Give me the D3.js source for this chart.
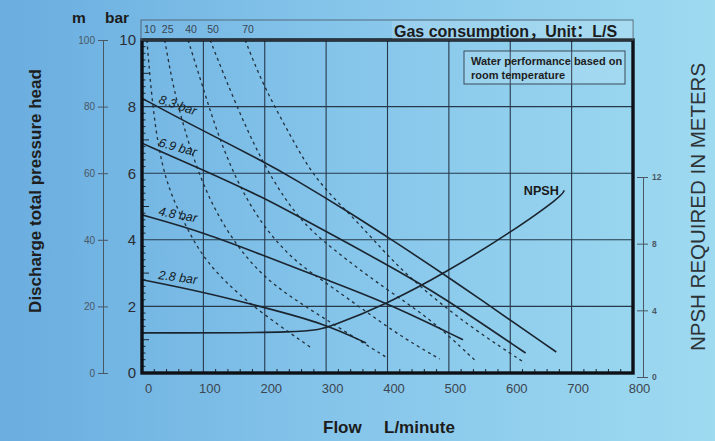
<!DOCTYPE html>
<html>
<head>
<meta charset="utf-8">
<script src="https://cdn.jsdelivr.net/npm/d3@7"></script>
<style>
  html, body { margin: 0; padding: 0; }
  body { width: 715px; height: 441px; overflow: hidden; }
  text { font-family: "Liberation Sans", Arial, "Noto Sans CJK SC", sans-serif; }
</style>
</head>
<body>
<div id="chart"></div>
<script>
// flow in L/minute, head in bar, NPSH in m
const flowTicks = [0, 100, 200, 300, 400, 500, 600, 700, 800]
const barTicks = [0, 2, 4, 6, 8, 10]
const meterTicks = [0, 20, 40, 60, 80, 100]
const npshTicks = [0, 4, 8, 12]

// air pressure curves (solid)
const pressureNames = ["8.3 bar", "6.9 bar", "4.8 bar", "2.8 bar"]
const p83 = [[0, 8.25], [65, 7.6], [200, 6.33], [245, 5.86], [340, 4.8], [400, 4.08], [490, 3.0], [675, 0.63]]
const p69 = [[0, 6.9], [100, 6.1], [200, 5.25], [255, 4.7], [400, 3.25], [485, 2.35], [625, 0.6]]
const p48 = [[0, 4.75], [100, 4.23], [205, 3.48], [300, 2.8], [400, 2.1], [523, 1.0]]
const p28 = [[0, 2.8], [100, 2.43], [197, 1.98], [300, 1.47], [365, 0.9]]

// gas consumption curves (dashed), L/S
const gasNames = ["10", "25", "40", "50", "70"]
const gas10 = [[8, 10], [18, 7.75], [36, 5.8], [70, 4.45], [103, 3.33], [171, 2.1], [274, 0.78]]
const gas25 = [[37, 10], [50, 8.65], [67, 7.45], [95, 5.8], [135, 4.3], [192, 2.94], [257, 2.1], [322, 1.35], [400, 0.45]]
const gas40 = [[75, 10], [98, 8.65], [122, 7.24], [153, 5.8], [195, 4.44], [249, 3.33], [306, 2.64], [412, 1.2], [485, 0.42]]
const gas50 = [[111, 10], [138, 8.74], [173, 7.21], [212, 5.8], [257, 4.59], [306, 3.78], [399, 2.49], [469, 1.65], [542, 0.39]]
const gas70 = [[168, 10], [197, 8.65], [241, 7.15], [282, 5.8], [344, 4.68], [392, 3.69], [432, 2.94], [485, 2.1], [546, 1.25], [624, 0.3]]

// NPSH required, m
const npsh = [[0, 2.65], [274, 2.65], [306, 3.0], [400, 4.4], [494, 6.25], [600, 8.65], [684, 10.85], [688, 11.2]]

const pressureCurves = [p83, p69, p48, p28]
const gasCurves = [gas10, gas25, gas40, gas50, gas70]

const W = 715, H = 441
const plot = {left: 142, right: 633, top: 40, bottom: 373}
const ink = "#1b2530"

const svg = d3.select("#chart").append("svg")
    .attr("width", W)
    .attr("height", H)

const defs = svg.append("defs")
const grad = defs.append("linearGradient").attr("id", "bg")
    .attr("x1", "0%").attr("x2", "100%").attr("y1", "0%").attr("y2", "0%")
grad.append("stop").attr("offset", "0%").attr("stop-color", "#6aaddf")
grad.append("stop").attr("offset", "45%").attr("stop-color", "#84c4ea")
grad.append("stop").attr("offset", "100%").attr("stop-color", "#9edaf0")
defs.append("clipPath").attr("id", "plotclip")
    .append("rect")
    .attr("x", plot.left).attr("y", plot.top)
    .attr("width", plot.right - plot.left).attr("height", plot.bottom - plot.top)

svg.append("rect").attr("width", W).attr("height", H).attr("fill", "url(#bg)")

const x = d3.scaleLinear([0, 800], [plot.left, plot.right])
const y = d3.scaleLinear([0, 10], [plot.bottom, plot.top])
const yM = d3.scaleLinear([0, 100], [plot.bottom, plot.top])
const yN = d3.scaleLinear([0, 12], [377, 177])

// grid
const grid = svg.append("g").attr("stroke", "#26384a").attr("stroke-width", 1.1)
grid.selectAll(".v").data(flowTicks.slice(1, -1)).join("line")
    .attr("x1", d => x(d)).attr("x2", d => x(d))
    .attr("y1", plot.top).attr("y2", plot.bottom)
grid.selectAll(".h").data(barTicks.slice(1, -1)).join("line")
    .attr("x1", plot.left).attr("x2", plot.right)
    .attr("y1", d => y(d)).attr("y2", d => y(d))

// minor ticks inside the frame
const minor = svg.append("g").attr("stroke", ink).attr("stroke-width", 1)
minor.selectAll(".mb").data(d3.range(0, 10, 0.2).filter(v => Math.round(v * 10) % 20 != 0)).join("line")
    .attr("x1", plot.left).attr("x2", d => plot.left + (Math.round(d * 10) % 10 == 0 ? 7 : 3.5))
    .attr("y1", d => y(d)).attr("y2", d => y(d))
minor.selectAll(".mf").data(d3.range(20, 800, 20).filter(v => v % 100 != 0)).join("line")
    .attr("x1", d => x(d)).attr("x2", d => x(d))
    .attr("y1", plot.bottom).attr("y2", plot.bottom - 4)

// curves
const line = d3.line()
    .x(d => x(d[0]))
    .y(d => y(d[1]))
    .curve(d3.curveBasis)

const curves = svg.append("g").attr("clip-path", "url(#plotclip)")

curves.selectAll(".gas").data(gasCurves).join("path")
    .attr("class", "gas")
    .attr("d", line)
    .attr("fill", "none")
    .attr("stroke", "#22303c")
    .attr("stroke-width", 1.3)
    .attr("stroke-dasharray", "3,3.5")

curves.selectAll(".press").data(pressureCurves).join("path")
    .attr("class", "press")
    .attr("d", line)
    .attr("fill", "none")
    .attr("stroke", ink)
    .attr("stroke-width", 1.6)

const npshLine = d3.line()
    .x(d => x(d[0]))
    .y(d => yN(d[1]))
    .curve(d3.curveBasis)

curves.append("path")
    .attr("d", npshLine(npsh))
    .attr("fill", "none")
    .attr("stroke", ink)
    .attr("stroke-width", 1.6)

// pressure labels, tilted along the start of each curve
pressureCurves.forEach((c, i) => {
    const px0 = x(c[0][0]), py0 = y(c[0][1])
    const slope = (y(c[1][1]) - py0) / (x(c[1][0]) - px0)
    const lx = px0 + 16
    const ly = py0 + slope * 16 - 4
    const ang = Math.atan(slope) * 180 / Math.PI * 0.65
    svg.append("text")
        .attr("transform", `translate(${lx},${ly}) rotate(${ang})`)
        .attr("font-size", 12.5)
        .attr("font-style", "italic")
        .attr("fill", "#141c24")
        .text(pressureNames[i])
})

const lastN = npsh[npsh.length - 2]
svg.append("text")
    .attr("x", x(lastN[0]) - 3)
    .attr("y", yN(lastN[1]) - 1)
    .attr("text-anchor", "end")
    .attr("font-size", 12)
    .attr("font-weight", "bold")
    .attr("textLength", 35)
    .attr("lengthAdjust", "spacingAndGlyphs")
    .attr("fill", "#1a1a1a")
    .text("NPSH")

// frame
svg.append("rect")
    .attr("x", plot.left).attr("y", plot.top)
    .attr("width", plot.right - plot.left).attr("height", plot.bottom - plot.top)
    .attr("fill", "none")
    .attr("stroke", "#0d1015")
    .attr("stroke-width", 3.4)

// gas consumption strip on top
svg.append("rect")
    .attr("x", plot.left - 1).attr("y", 20)
    .attr("width", plot.right - plot.left + 1).attr("height", 20)
    .attr("fill", "none")
    .attr("stroke", "#506070")
    .attr("stroke-width", 0.9)
svg.append("rect")
    .attr("x", 392).attr("y", 21)
    .attr("width", plot.right - 392).attr("height", 18)
    .attr("fill", "#ffffff").attr("fill-opacity", 0.14)
svg.append("text")
    .attr("x", 394).attr("y", 37)
    .attr("font-size", 16).attr("font-weight", "bold")
    .attr("fill", "#1c1c1c")
    .text("Gas consumption，Unit：L/S")

svg.selectAll(".gaslab").data(gasCurves).join("text")
    .attr("x", d => x(d[0][0]) + 3)
    .attr("y", 33)
    .attr("text-anchor", "middle")
    .attr("font-size", 10.5)
    .attr("fill", "#3a4450")
    .text((d, i) => gasNames[i])

// note box
svg.append("rect")
    .attr("x", 464).attr("y", 51).attr("width", 161).attr("height", 33)
    .attr("fill", "#ffffff").attr("fill-opacity", 0.12)
    .attr("stroke", "#3a4a5a").attr("stroke-width", 1)
svg.append("text")
    .attr("x", 471).attr("y", 64.5)
    .attr("font-size", 11).attr("font-weight", "bold").attr("fill", "#1e1e1e")
    .text("Water performance based on")
svg.append("text")
    .attr("x", 471).attr("y", 79)
    .attr("font-size", 11).attr("font-weight", "bold").attr("fill", "#1e1e1e")
    .text("room temperature")

// x axis
const xAxis = svg.append("g")
    .attr("transform", `translate(0,${plot.bottom})`)
    .call(d3.axisBottom(x).tickValues(flowTicks).tickSize(0).tickPadding(11))
xAxis.select(".domain").remove()
xAxis.selectAll("text")
    .attr("dx", 6)
    .attr("font-size", 13)
    .attr("fill", "#3c4650")
    .attr("font-family", "Liberation Sans, Arial, sans-serif")

// bar axis (labels only)
const barAxis = svg.append("g")
    .attr("transform", "translate(136,0)")
    .call(d3.axisLeft(y).tickValues(barTicks).tickSize(0).tickPadding(0))
barAxis.select(".domain").remove()
barAxis.selectAll("text")
    .attr("font-size", 15)
    .attr("fill", "#2a2e33")
    .attr("font-family", "Liberation Sans, Arial, sans-serif")

// meter axis
const mAxis = svg.append("g")
    .attr("transform", "translate(103,0)")
    .call(d3.axisLeft(yM).tickValues(meterTicks).tickSize(5).tickSizeOuter(0).tickPadding(3))
mAxis.select(".domain").attr("stroke", "#4a5866")
mAxis.selectAll("line").attr("x1", 5).attr("stroke", "#4a5866")
mAxis.selectAll("text")
    .attr("font-size", 10)
    .attr("fill", "#4a5866")
    .attr("font-family", "Liberation Sans, Arial, sans-serif")

// NPSH axis
const nAxis = svg.append("g")
    .attr("transform", "translate(643,0)")
    .call(d3.axisRight(yN).tickValues(npshTicks).tickSize(5).tickSizeOuter(0).tickPadding(4))
nAxis.select(".domain").attr("stroke", "#4a5866")
nAxis.selectAll("line").attr("x1", -6).attr("stroke", "#4a5866")
nAxis.selectAll("text")
    .attr("font-size", 8.5)
    .attr("font-weight", "bold")
    .attr("fill", "#4a5866")
    .attr("font-family", "Liberation Sans, Arial, sans-serif")

// titles
svg.append("text").attr("x", 72).attr("y", 23)
    .attr("font-size", 15.5).attr("font-weight", "bold").attr("fill", "#1c1c1c").text("m")
svg.append("text").attr("x", 105).attr("y", 23)
    .attr("font-size", 15.5).attr("font-weight", "bold").attr("fill", "#1c1c1c").text("bar")

svg.append("text")
    .attr("transform", "translate(41,191) rotate(-90)")
    .attr("text-anchor", "middle")
    .attr("font-size", 17).attr("font-weight", "bold").attr("fill", "#1e1e1e")
    .text("Discharge total pressure head")

svg.append("text")
    .attr("transform", "translate(705,207) rotate(-90)")
    .attr("text-anchor", "middle")
    .attr("font-size", 20.5).attr("fill", "#2e3338")
    .text("NPSH REQUIRED IN METERS")

svg.append("text").attr("x", 323).attr("y", 433)
    .attr("font-size", 17).attr("font-weight", "bold").attr("fill", "#1c1c1c").text("Flow")
svg.append("text").attr("x", 384).attr("y", 433)
    .attr("font-size", 17).attr("font-weight", "bold").attr("fill", "#1c1c1c").text("L/minute")
</script>
</body>
</html>
